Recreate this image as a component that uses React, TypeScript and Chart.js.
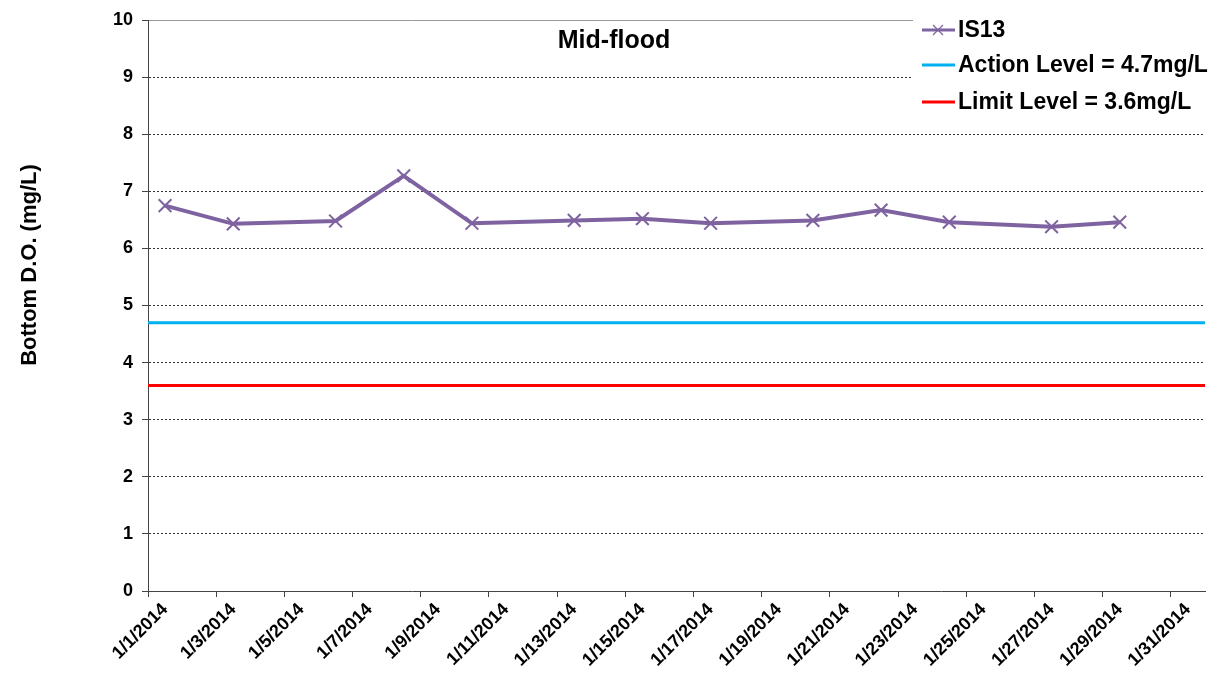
import { useEffect, useRef } from 'react';
import { Chart, registerables } from 'chart.js';
Chart.register(...registerables);

// Days after 1/1/2014 00:00 at which IS13 was sampled
const sampleDay = [0.5, 2.5, 5.5, 7.5, 9.5, 12.5, 14.5, 16.5, 19.5, 21.5, 23.5, 26.5, 28.5];
const is13Values = [6.75, 6.43, 6.48, 7.27, 6.44, 6.49, 6.52, 6.44, 6.49, 6.67, 6.46, 6.38, 6.46];
const actionLevel = 4.7;
const limitLevel = 3.6;
const xTickLabels = [
  '1/1/2014', '1/3/2014', '1/5/2014', '1/7/2014', '1/9/2014', '1/11/2014', '1/13/2014', '1/15/2014',
  '1/17/2014', '1/19/2014', '1/21/2014', '1/23/2014', '1/25/2014', '1/27/2014', '1/29/2014', '1/31/2014',
];
const yTicks = [0, 1, 2, 3, 4, 5, 6, 7, 8, 9, 10];
const seriesLabels = ['IS13', 'Action Level = 4.7mg/L', 'Limit Level = 3.6mg/L'];
const chartTitle = 'Mid-flood';
const yTitle = 'Bottom D.O. (mg/L)';

const FONT = '"Liberation Sans", Arial, Helvetica, sans-serif';

const decorPlugin = {
  id: 'decor',
  afterDraw(chart: any) {
    const ctx = chart.ctx;
    ctx.save();
    // chart title
    ctx.fillStyle = '#000';
    ctx.font = `bold 25px ${FONT}`;
    ctx.textAlign = 'center';
    ctx.textBaseline = 'middle';
    ctx.fillText(chartTitle, 614, 41);
    // y title
    ctx.save();
    ctx.translate(30, 265);
    ctx.rotate(-Math.PI / 2);
    ctx.font = `bold 22px ${FONT}`;
    ctx.fillText(yTitle, 0, 0);
    ctx.restore();
    // legend
    ctx.fillStyle = '#fff';
    ctx.fillRect(913, 0, 305, 116);
    const ys = [30, 65, 102];
    chart.data.datasets.forEach((ds: any, i: number) => {
      const y = ys[i];
      ctx.strokeStyle = ds.borderColor;
      ctx.lineWidth = 3;
      ctx.beginPath();
      ctx.moveTo(922, y);
      ctx.lineTo(955, y);
      ctx.stroke();
      if (i === 0) {
        ctx.lineWidth = 1.2;
        ctx.strokeStyle = ds.borderColor;
        ctx.beginPath();
        ctx.moveTo(933, y - 5); ctx.lineTo(943, y + 5);
        ctx.moveTo(943, y - 5); ctx.lineTo(933, y + 5);
        ctx.stroke();
      }
      ctx.fillStyle = '#000';
      ctx.font = `bold 23px ${FONT}`;
      ctx.textAlign = 'left';
      ctx.textBaseline = 'middle';
      ctx.fillText(ds.label, 958, y + 1);
    });
    ctx.restore();
  },
};

export default function App() {
  const ref = useRef<HTMLCanvasElement>(null);
  useEffect(() => {
    document.body.style.margin = '0';
    const chart = new Chart(ref.current as HTMLCanvasElement, {
      type: 'line',
      data: {
        datasets: [
          {
            label: seriesLabels[0],
            data: sampleDay.map((d, i) => ({ x: d, y: is13Values[i] })),
            borderColor: '#7F63A1',
            backgroundColor: '#7F63A1',
            borderWidth: 4,
            pointStyle: 'crossRot',
            pointRadius: 9,
            pointBorderWidth: 2,
            pointBorderColor: '#7F63A1',
            tension: 0,
          },
          {
            label: seriesLabels[1],
            data: [{ x: 0, y: actionLevel }, { x: 31, y: actionLevel }],
            borderColor: '#00B0F0',
            borderWidth: 3,
            pointRadius: 0,
          },
          {
            label: seriesLabels[2],
            data: [{ x: 0, y: limitLevel }, { x: 31, y: limitLevel }],
            borderColor: '#FF0000',
            borderWidth: 3,
            pointRadius: 0,
          },
        ],
      },
      options: {
        responsive: false,
        animation: false,
        layout: { padding: { top: 20, right: 13, left: 0, bottom: 0 } },
        plugins: { legend: { display: false }, tooltip: { enabled: false }, title: { display: false } },
        scales: {
          x: {
            type: 'linear',
            min: 0,
            max: 31,
            afterBuildTicks: (s: any) => { s.ticks = xTickLabels.map((_, i) => ({ value: i * 2 })); },
            afterFit: (s: any) => { s.height = 86; },
            ticks: {
              autoSkip: false,
              minRotation: 45,
              maxRotation: 45,
              labelOffset: 17,
              padding: 2,
              color: '#000',
              font: { family: FONT, size: 18, weight: 'bold' },
              callback: (_v: any, i: number) => xTickLabels[i],
            },
            grid: { drawOnChartArea: false, tickLength: 6, color: '#444', tickColor: '#444' },
            border: { color: '#444', width: 1 },
          },
          x2: {
            type: 'linear',
            position: 'top',
            min: 0,
            max: 31,
            afterFit: (s: any) => { s.height = 0; },
            ticks: { display: false },
            grid: { display: false },
            border: { color: '#999', width: 1 },
          },
          y: {
            min: 0,
            max: 10,
            afterBuildTicks: (s: any) => { s.ticks = yTicks.map((v) => ({ value: v })); },
            afterFit: (s: any) => { s.width = 148; },
            ticks: {
              padding: 9,
              color: '#000',
              font: { family: FONT, size: 18, weight: 'bold' },
            },
            grid: {
              tickLength: 6,
              tickColor: '#444',
              color: (c: any) => (c.tick && (c.tick.value === 0 || c.tick.value === 10) ? 'rgba(0,0,0,0)' : '#333'),
              lineWidth: 1,
            },
            border: { color: '#444', width: 1, dash: [2, 2] },
          },
        },
      },
      plugins: [decorPlugin],
    } as any);
    return () => chart.destroy();
  }, []);
  return (
    <div style={{ position: 'absolute', left: 0, top: 0, width: 1218, height: 677, background: '#fff' }}>
      <canvas ref={ref} width={1218} height={677} />
    </div>
  );
}
